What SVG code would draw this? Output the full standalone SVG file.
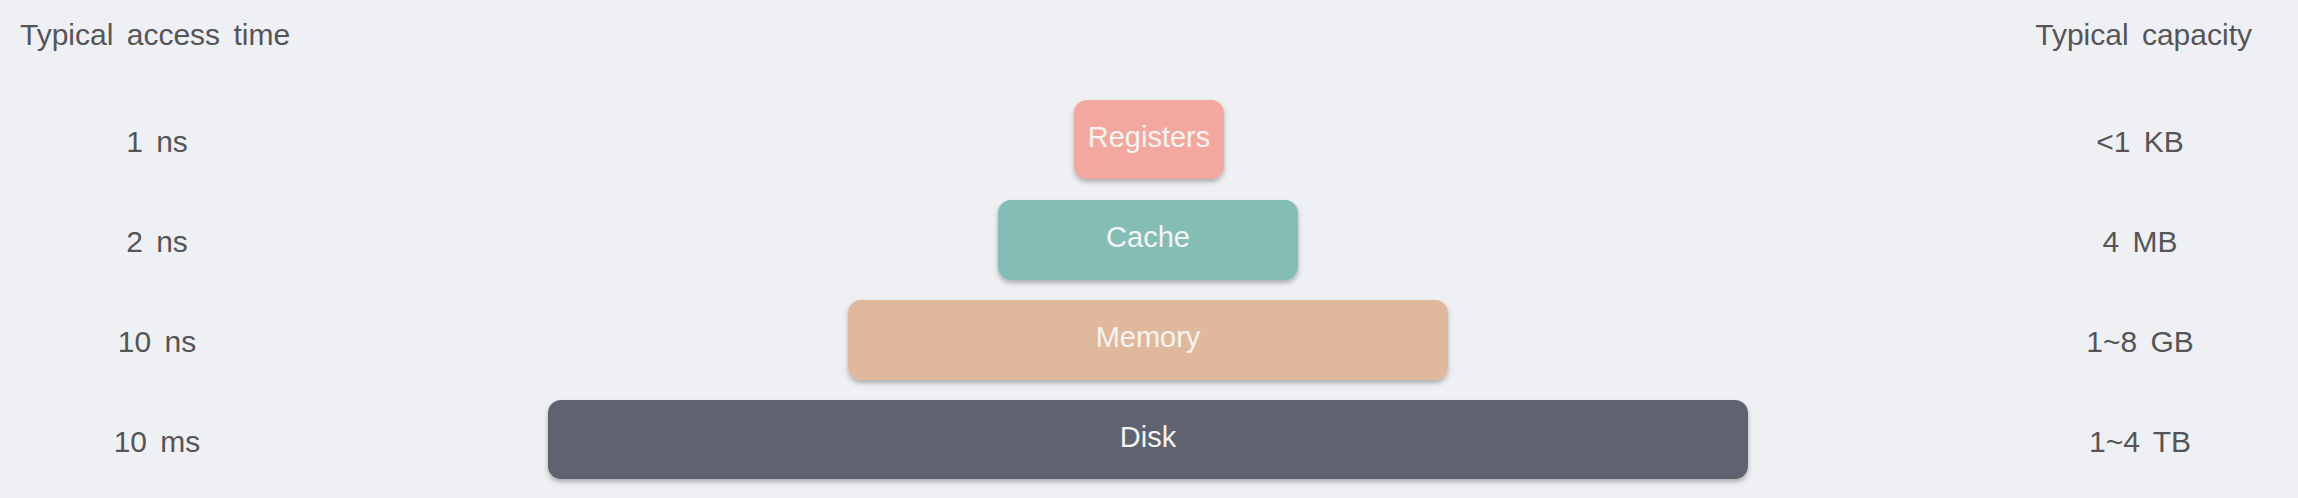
<svg xmlns="http://www.w3.org/2000/svg" width="2298" height="498" viewBox="0 0 2298 498">
<defs>
<filter id="sh" x="-10%" y="-20%" width="120%" height="150%">
<feDropShadow dx="0" dy="3" stdDeviation="2.5" flood-color="#000" flood-opacity="0.28"/>
</filter>
</defs>
<style>
.lbl{font-family:"Liberation Sans",Arial,sans-serif;font-size:30px;fill:#555558;word-spacing:5px}
.nt{font-family:"Liberation Sans",Arial,sans-serif;font-size:29px;fill:#f4f4f2;text-anchor:middle}
.c{text-anchor:middle}
</style>
<rect width="2298" height="498" fill="#eff0f3"/>
<g id="headers">
<text class="lbl" x="20" y="45">Typical access time</text>
<text class="lbl" x="2252" y="45" text-anchor="end">Typical capacity</text>
</g>
<g id="access-times">
<text class="lbl c" x="157" y="152">1 ns</text>
<text class="lbl c" x="157" y="252">2 ns</text>
<text class="lbl c" x="157" y="352">10 ns</text>
<text class="lbl c" x="157" y="452">10 ms</text>
</g>
<g id="capacities">
<text class="lbl c" x="2140" y="152">&lt;1 KB</text>
<text class="lbl c" x="2140" y="252">4 MB</text>
<text class="lbl c" x="2140" y="352">1~8 GB</text>
<text class="lbl c" x="2140" y="452">1~4 TB</text>
</g>
<g id="registers">
<rect x="1074" y="100" width="150" height="79" rx="13" fill="#f2a89e" filter="url(#sh)"/>
<text class="nt" x="1149" y="147">Registers</text>
</g>
<g id="cache">
<rect x="998" y="200" width="300" height="80" rx="13" fill="#84bdb5" filter="url(#sh)"/>
<text class="nt" x="1148" y="247">Cache</text>
</g>
<g id="memory">
<rect x="848" y="300" width="600" height="80" rx="13" fill="#e0b99d" filter="url(#sh)"/>
<text class="nt" x="1148" y="347">Memory</text>
</g>
<g id="disk">
<rect x="548" y="400" width="1200" height="79" rx="13" fill="#5e6370" filter="url(#sh)"/>
<text class="nt" x="1148" y="447">Disk</text>
</g>
<g id="connectors"/>
</svg>
